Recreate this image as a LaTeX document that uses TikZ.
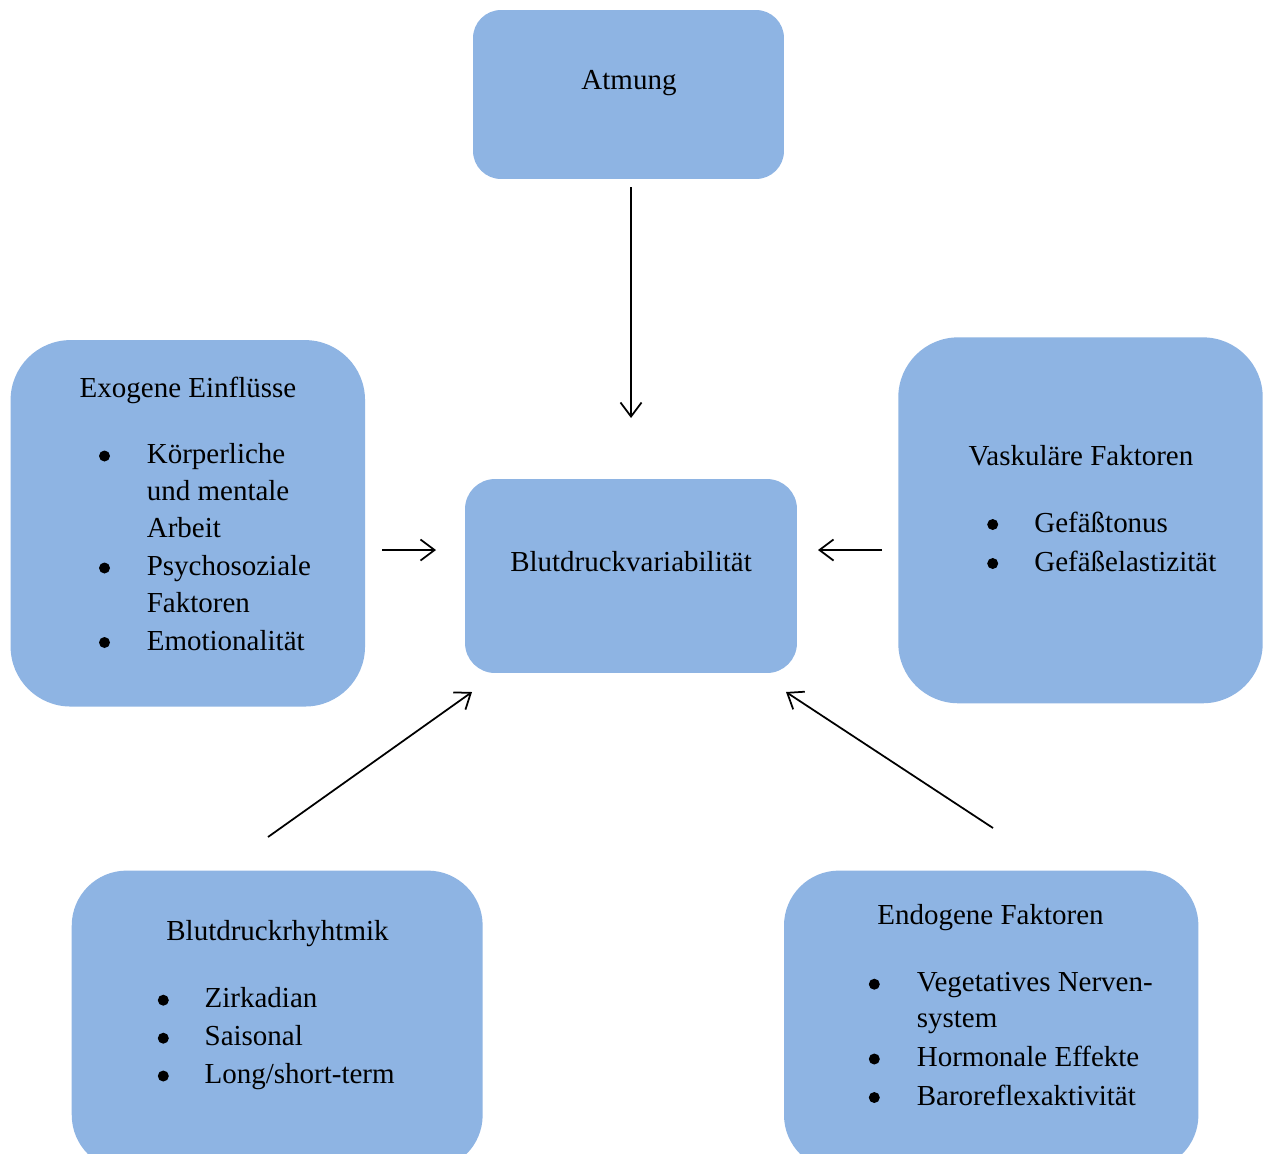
\documentclass[tikz,border=0pt]{standalone}
\usepackage{fontspec}
\setmainfont{Liberation Serif}
\usetikzlibrary{arrows.meta}
\definecolor{boxblue}{HTML}{8EB4E3}
\begin{document}
\begin{tikzpicture}[x=0.02cm,y=-0.02cm,
  box/.style={fill=boxblue, draw=none, inner sep=0pt},
  txt/.style={font=\fontsize{16.5}{21}\selectfont, inner sep=0pt},
  title/.style={txt, anchor=base},
  item/.style={txt, anchor=base west},
  bul/.style={circle, fill=black, draw=none, inner sep=0pt, minimum size=0.22cm},
  conn/.style={line width=1pt, -{Straight Barb[length=8pt,width=12pt,line width=1pt]}}]
\useasboundingbox (0,0) rectangle (1263,1153);
\clip (0,0) rectangle (1263,1153);
\fill[white] (0,0) rectangle (1263,1153);

% boxes
\node[box, rounded corners=0.56cm, minimum width=6.22cm, minimum height=3.38cm] (atm) at (628.5,94.5) {};
\node[box, rounded corners=0.6cm, minimum width=6.64cm, minimum height=3.88cm] (bdv) at (631,576) {};
\node[box, rounded corners=1.2cm, minimum width=7.09cm, minimum height=7.33cm] (exo) at (187.8,523.3) {};
\node[box, rounded corners=1.2cm, minimum width=7.29cm, minimum height=7.32cm] (vas) at (1080.5,520.3) {};
\node[box, rounded corners=1.1cm, minimum width=8.22cm, minimum height=5.99cm] (rhy) at (277.2,1020.3) {};
\node[box, rounded corners=1.1cm, minimum width=8.29cm, minimum height=5.99cm] (endo) at (991.2,1020.3) {};

% texts
\node[title] (tatm) at (629,89) {Atmung};
\node[title] (tbdv) at (631,571) {Blutdruckvariabilität};

\node[title] (texo) at (188,397) {Exogene Einflüsse};
\node[bul] (be1) at (104.5,456) {};
\node[item] (ie1a) at (146.5,463.5) {Körperliche};
\node[item] (ie1b) at (146.5,500.5) {und mentale};
\node[item] (ie1c) at (146.5,537) {Arbeit};
\node[bul] (be2) at (104.5,568) {};
\node[item] (ie2a) at (146.5,575.5) {Psychosoziale};
\node[item] (ie2b) at (146.5,612) {Faktoren};
\node[bul] (be3) at (104.5,642.5) {};
\node[item] (ie3) at (146.5,650) {Emotionalität};

\node[title] (tvas) at (1081,465.5) {Vaskuläre Faktoren};
\node[bul] (bv1) at (992.7,524.5) {};
\node[item] (iv1) at (1034,532) {Gefäßtonus};
\node[bul] (bv2) at (992.7,563.5) {};
\node[item] (iv2) at (1034,571) {Gefäßelastizität};

\node[title] (trhy) at (277.5,940) {Blutdruckrhyhtmik};
\node[bul] (br1) at (163.3,1000.2) {};
\node[item] (ir1) at (204.3,1007.7) {Zirkadian};
\node[bul] (br2) at (163.3,1038.2) {};
\node[item] (ir2) at (204.3,1045.7) {Saisonal};
\node[bul] (br3) at (163.3,1076) {};
\node[item] (ir3) at (204.3,1083.5) {Long/short-term};

\node[title] (tendo) at (990.5,924) {Endogene Faktoren};
\node[bul] (bn1) at (874.3,984.2) {};
\node[item] (in1a) at (916.5,991.7) {Vegetatives Nerven-};
\node[item] (in1b) at (916.5,1027.5) {system};
\node[bul] (bn2) at (874.3,1059) {};
\node[item] (in2) at (916.5,1066.5) {Hormonale Effekte};
\node[bul] (bn3) at (874.3,1097.5) {};
\node[item] (in3) at (916.5,1105) {Baroreflexaktivität};

% connector end points
\coordinate (a1s) at (631,187);
\coordinate (a1e) at (631,418);
\coordinate (a2s) at (382,550);
\coordinate (a2e) at (436,550);
\coordinate (a3s) at (882,550);
\coordinate (a3e) at (818,550);
\coordinate (a4s) at (268,837);
\coordinate (a4e) at (472,692);
\coordinate (a5s) at (993,828);
\coordinate (a5e) at (786,692);

\draw[conn] (a1s) -- (a1e);
\draw[conn] (a2s) -- (a2e);
\draw[conn] (a3s) -- (a3e);
\draw[conn] (a4s) -- (a4e);
\draw[conn] (a5s) -- (a5e);
\end{tikzpicture}
\end{document}
